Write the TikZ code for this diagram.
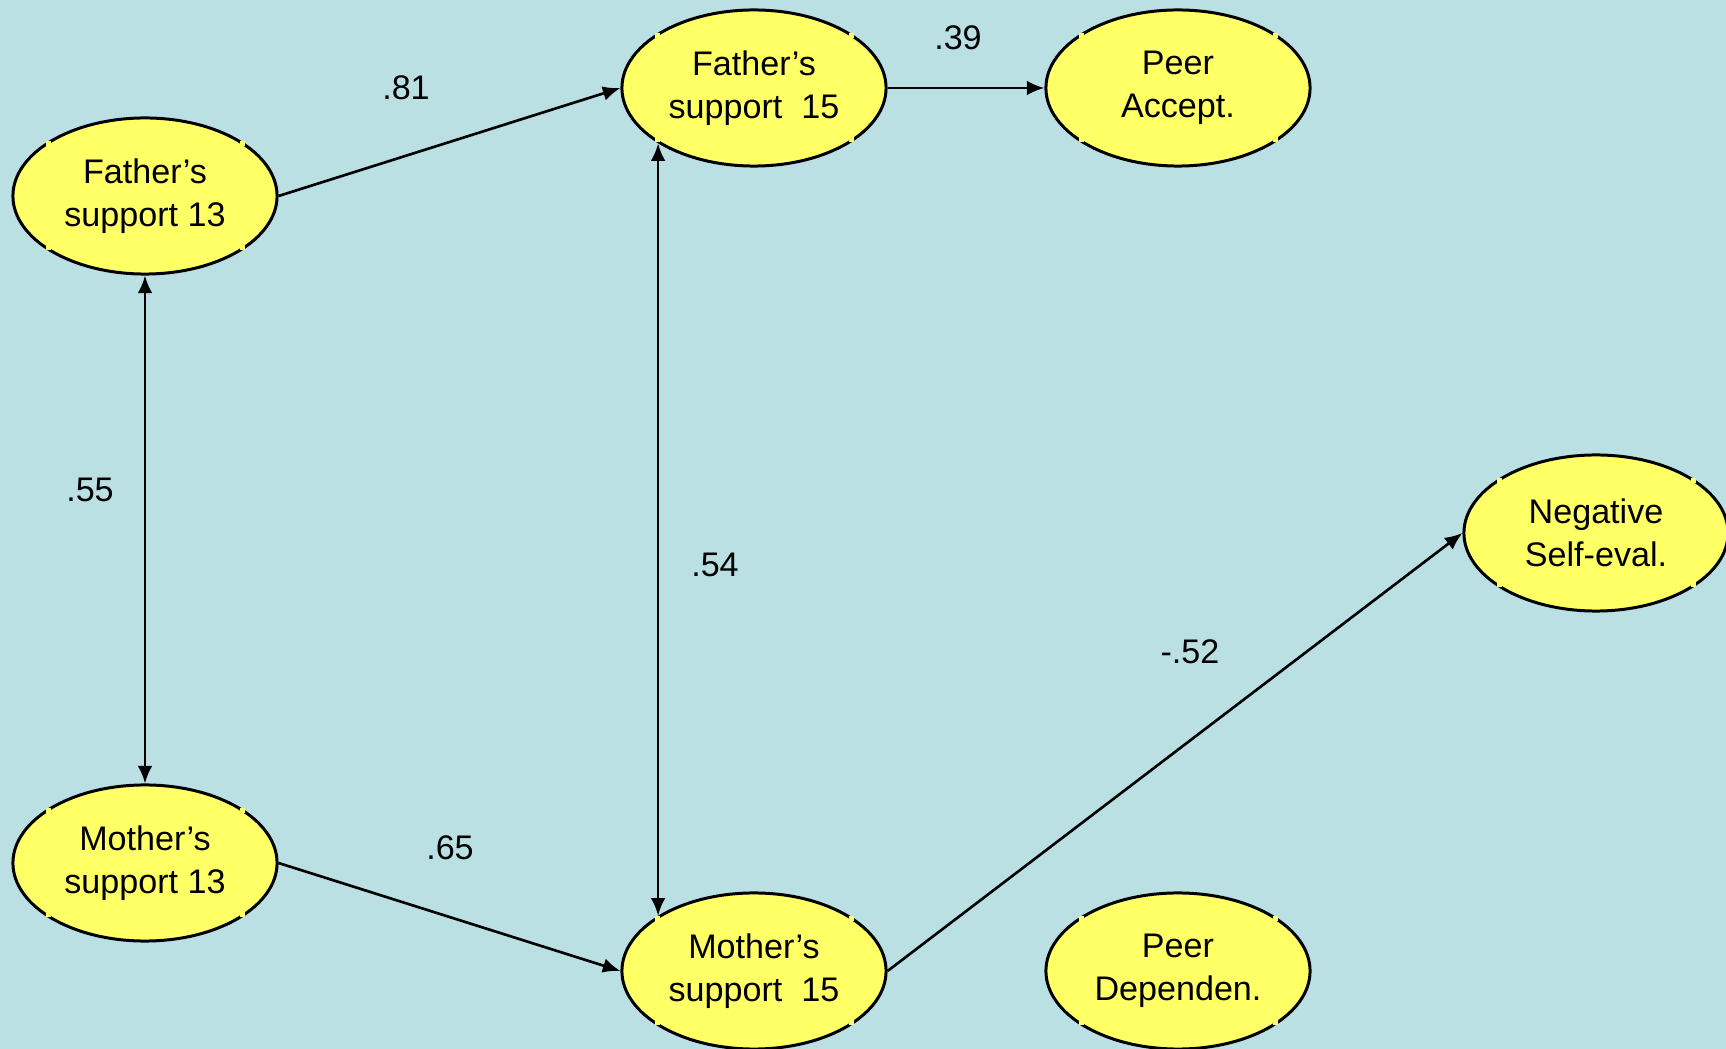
\documentclass[tikz,border=0pt]{standalone}
\usepackage{fontspec}
\setmainfont{Liberation Sans}
\usetikzlibrary{shapes.geometric, arrows.meta}

\definecolor{slidebg}{RGB}{186,224,228}
\definecolor{factoryellow}{RGB}{255,255,102}

\tikzset{
	factor/.style = {ellipse, draw, fill = factoryellow, line width = 0.85pt, minimum width = 2.64cm, minimum height = 1.56cm, inner sep = 0pt, align = center, font = \fontsize{9.7}{12.2}\selectfont},
	effect/.style = {line width = 0.75pt, ->},
	weight/.style = {font = \fontsize{9.7}{12.2}\selectfont}
}

\begin{document}
\begin{tikzpicture}[x = 0.01cm, y = -0.01cm, > = {Latex[length = 5pt, width = 4.2pt]}]

	% The slide background

	\useasboundingbox (0, 0) rectangle (1726, 1049);
	\fill [slidebg] (0, 0) rectangle (1726, 1049);

	% Latent factors

	\node [factor] (F13) at (145, 196) {Father’s\\support 13};
	\node [factor] (M13) at (145, 863) {Mother’s\\support 13};
	\node [factor] (F15) at (754, 88) {Father’s\\support\ \ 15};
	\node [factor] (M15) at (754, 971) {Mother’s\\support\ \ 15};
	\node [factor] (PA) at (1178, 88) {Peer\\Accept.};
	\node [factor] (PD) at (1178, 971) {Peer\\Dependen.};
	\node [factor] (NS) at (1596, 533) {Negative\\Self-eval.};

	% Little yellow marks on the outlines

	\foreach \n in {F13, M13, F15, M15, PA, PD, NS}
	{
		\foreach \dx/\dy in {-97/-52, 97/-52, -97/52, 97/52}
		{
			\fill [factoryellow] (\n.center) ++ (\dx, \dy) ++ (-2.5, -2.5) rectangle ++ (5, 5);
		}
	}

	% Paths

	\draw [effect] (F13.east) -- (F15.west);
	\draw [effect] (F15.east) -- (PA.west);
	\draw [effect] (M13.east) -- (M15.west);
	\draw [effect] (M15.east) -- (NS.west);
	\draw [effect, <->] (F13.south) -- (M13.north);
	\draw [effect, <->] (F15.210) -- (M15.150);

	% Path weights

	\node [weight] (w81) at (406, 88) {.81};
	\node [weight] (w39) at (958, 38) {.39};
	\node [weight] (w55) at (90, 490) {.55};
	\node [weight] (w54) at (715, 565) {.54};
	\node [weight] (w65) at (450, 848) {.65};
	\node [weight] (w52) at (1190, 652) {-.52};

\end{tikzpicture}
\end{document}
